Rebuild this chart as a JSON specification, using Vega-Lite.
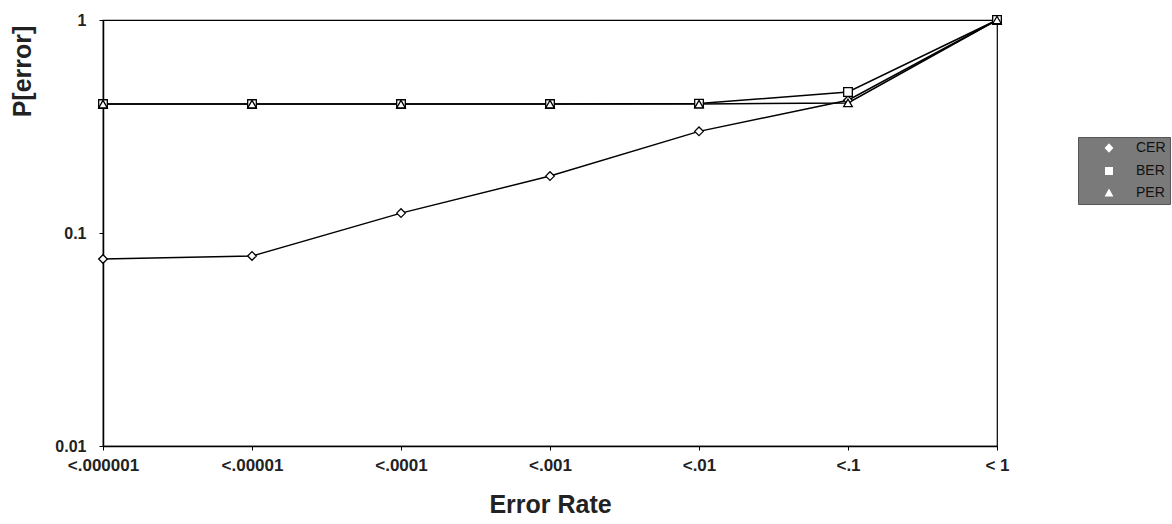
{
  "$schema": "https://vega.github.io/schema/vega-lite/v6.json",
  "width": 894,
  "height": 426,
  "autosize": {"type": "none"},
  "padding": {"left": 103, "top": 20, "right": 175, "bottom": 78},
  "background": "white",
  "config": {
    "view": {"stroke": "black", "strokeWidth": 1.2},
    "font": "Liberation Sans"
  },
  "data": {
    "values": [
      {"rate": "<.000001", "series": "CER", "p": 0.0755},
      {"rate": "<.00001", "series": "CER", "p": 0.078},
      {"rate": "<.0001", "series": "CER", "p": 0.124},
      {"rate": "<.001", "series": "CER", "p": 0.185},
      {"rate": "<.01", "series": "CER", "p": 0.30},
      {"rate": "<.1", "series": "CER", "p": 0.42},
      {"rate": "< 1", "series": "CER", "p": 1.0},
      {"rate": "<.000001", "series": "BER", "p": 0.403},
      {"rate": "<.00001", "series": "BER", "p": 0.403},
      {"rate": "<.0001", "series": "BER", "p": 0.403},
      {"rate": "<.001", "series": "BER", "p": 0.403},
      {"rate": "<.01", "series": "BER", "p": 0.405},
      {"rate": "<.1", "series": "BER", "p": 0.459},
      {"rate": "< 1", "series": "BER", "p": 1.0},
      {"rate": "<.000001", "series": "PER", "p": 0.403},
      {"rate": "<.00001", "series": "PER", "p": 0.403},
      {"rate": "<.0001", "series": "PER", "p": 0.403},
      {"rate": "<.001", "series": "PER", "p": 0.403},
      {"rate": "<.01", "series": "PER", "p": 0.403},
      {"rate": "<.1", "series": "PER", "p": 0.408},
      {"rate": "< 1", "series": "PER", "p": 1.0}
    ]
  },
  "encoding": {
    "x": {
      "field": "rate",
      "type": "ordinal",
      "sort": ["<.000001", "<.00001", "<.0001", "<.001", "<.01", "<.1", "< 1"],
      "scale": {"type": "point", "padding": 0},
      "axis": {
        "title": "Error Rate",
        "titleFontSize": 25,
        "titleFontWeight": "bold",
        "titleColor": "#222",
        "titlePadding": 19,
        "labelAngle": 0,
        "labelFontSize": 17,
        "labelFontWeight": "bold",
        "labelColor": "#222",
        "labelPadding": 7,
        "domainColor": "black",
        "domainWidth": 1.5,
        "tickColor": "black",
        "tickSize": 4,
        "orient": "bottom",
        "grid": false
      }
    },
    "y": {
      "field": "p",
      "type": "quantitative",
      "scale": {"type": "log", "domain": [0.01, 1]},
      "axis": {
        "title": "P[error]",
        "titleFontSize": 25,
        "titleFontWeight": "bold",
        "titleColor": "#222",
        "titleY": 51,
        "titlePadding": 19,
        "values": [0.01, 0.1, 1],
        "labelFontSize": 16,
        "labelFontWeight": "bold",
        "labelColor": "#222",
        "labelPadding": 13,
        "domainColor": "black",
        "domainWidth": 1.5,
        "tickColor": "black",
        "tickSize": 4,
        "grid": false
      }
    },
    "detail": {"field": "series"}
  },
  "resolve": {"scale": {"shape": "independent"}, "legend": {"shape": "independent"}},
  "layer": [
    {
      "mark": {"type": "line", "color": "black", "strokeWidth": 1.5}
    },
    {
      "mark": {"type": "point", "filled": true, "fill": "white", "stroke": "black", "strokeWidth": 1.3, "size": 75, "opacity": 1},
      "encoding": {
        "shape": {
          "field": "series",
          "type": "nominal",
          "scale": {"domain": ["CER", "BER", "PER"], "range": ["diamond", "square", "triangle-up"]},
          "legend": null
        }
      }
    },
    {
      "transform": [{"filter": "datum.p > 5"}],
      "mark": {"type": "point", "filled": false, "fill": "white", "stroke": "black", "strokeWidth": 1.3, "size": 64, "opacity": 1},
      "encoding": {
        "shape": {
          "field": "series",
          "type": "nominal",
          "scale": {
            "domain": ["CER", "BER", "PER"],
            "range": [
              "M-0.5,0H3.9M6.1,0H10.5M5,-1.2L6.1,0L5,1.2L3.9,0Z",
              "M-0.5,0H4M6,0H10.5M4,-1H6V1H4Z",
              "M-0.5,0.3H3.9M6.1,0.3H10.5M5,-1.1L6.1,0.9H3.9Z"
            ]
          },
          "legend": {
            "title": null,
            "orient": "none",
            "legendX": 975,
            "legendY": 117,
            "fillColor": "#7a7a7a",
            "strokeColor": "#555",
            "padding": 4,
            "labelColor": "#111",
            "labelFontSize": 14,
            "symbolFillColor": "white",
            "symbolStrokeColor": "black",
            "symbolStrokeWidth": 1.3,
            "symbolOpacity": 1,
            "symbolSize": 64,
            "rowPadding": 8,
            "labelOffset": 40,
            "encode": {
              "symbols": {
                "stroke": {"value": "black"},
                "strokeWidth": {"value": 1.3},
                "fill": {"value": "white"},
                "opacity": {"value": 1}
              }
            }
          }
        }
      }
    }
  ]
}
